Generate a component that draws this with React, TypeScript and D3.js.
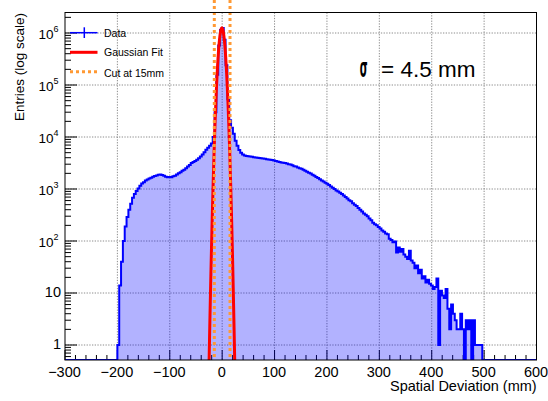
import React from "react";
import * as d3 from "d3";

// Histogram: 200 bins from -200 mm to 500 mm
const histMin = -200;
const histMax = 500;
const counts = [
  1, 14, 40, 100, 190, 290, 400, 520, 680, 800,
  920, 1020, 1150, 1280, 1350, 1450, 1520, 1600, 1650, 1720,
  1780, 1820, 1880, 1900, 1870, 1800, 1720, 1680, 1700, 1690,
  1750, 1800, 1900, 2000, 2100, 2250, 2350, 2500, 2700, 2900,
  3150, 3300, 3450, 3650, 3900, 4200, 4600, 5100, 5700, 6200,
  6800, 7500, 10000, 30000, 157000, 575000, 1140000, 1250000, 740000, 240000,
  53000, 21000, 15000, 11500, 8500, 6800, 5600, 5000, 4600, 4400,
  4300, 4250, 4200, 4150, 4100, 4050, 4000, 3950, 3900, 3850,
  3800, 3750, 3700, 3650, 3600, 3550, 3450, 3400, 3300, 3250,
  3200, 3150, 3100, 3000, 2950, 2850, 2750, 2700, 2600, 2500,
  2450, 2350, 2250, 2150, 2050, 1980, 1880, 1800, 1700, 1620,
  1540, 1460, 1390, 1320, 1260, 1190, 1120, 1060, 1000, 940,
  900, 850, 800, 750, 700, 660, 610, 580, 530, 500,
  470, 430, 400, 370, 340, 320, 300, 270, 250, 225,
  210, 200, 185, 175, 160, 150, 140, 135, 110, 105,
  95, 98, 60, 75, 62, 70, 55, 50, 45, 65,
  42, 38, 30, 34, 24, 28, 19, 21, 16, 18,
  15, 14, 12, 13, 19, 1, 11, 9, 8, 12,
  5, 2, 6, 4, 3, 2, 2, 4, 2, 0,
  3, 2, 3, 0, 3, 1, 1, 1, 1, 0,
];

// Gaussian fit parameters
const fitAmplitude = 1.25e6;
const fitMean = -0.5;
const fitSigma = 4.5;
const cutValue = 15;

const xDomain = [-300, 600];
const yDomain = [0.515, 2.48e6];
const xTicks = [-300, -200, -100, 0, 100, 200, 300, 400, 500, 600];
const yDecades = [1, 10, 100, 1000, 10000, 100000, 1000000];
const legendLabels = ["Data", "Gaussian Fit", "Cut at 15mm"];
const xTitle = "Spatial Deviation (mm)";
const yTitle = "Entries (log scale)";
const sigmaText = "= 4.5 mm";

const FONT = "'Liberation Sans', Arial, Helvetica, sans-serif";

export default function App() {
  const W = 548, H = 401;
  const L = 65, R = 536.5, T = 12.5, B = 360;
  const x = d3.scaleLinear().domain(xDomain).range([L, R]);
  const y = d3.scaleLog().domain(yDomain).range([B, T]);
  const bw = (histMax - histMin) / counts.length;
  const yv = (v: number) => (v > 0 ? y(v) : B);

  let steps = "";
  counts.forEach((c, i) => {
    const x1 = x(histMin + (i + 1) * bw);
    steps += `V${yv(c)}H${x1}`;
  });
  const outline = `M${L},${B}H${x(histMin)}` + steps + `V${B}H${R}`;
  const fillPath = `M${x(histMin)},${B}` + steps + `V${B}Z`;

  const gSamples = d3.range(-40, 40.001, 0.1);
  const gLine = d3
    .line<number>()
    .x((d) => x(d))
    .y((d) => {
      const v = fitAmplitude * Math.exp(-((d - fitMean) ** 2) / (2 * fitSigma * fitSigma));
      return Math.min(y(Math.max(v, 1e-3)), B + 40);
    });

  const xMinor = d3.range(-300, 600.001, 20).filter((v) => v % 100 !== 0);
  const yMinor: number[] = [];
  for (let e = -1; e <= 6; e++) {
    for (let m = 2; m <= 9; m++) {
      const v = m * Math.pow(10, e);
      if (v >= yDomain[0] && v <= yDomain[1]) yMinor.push(v);
    }
  }
  const exps = ["", "", "2", "3", "4", "5", "6"];

  return (
    <svg
      width={W}
      height={H}
      style={{ position: "fixed", left: 0, top: 0, background: "#fff" }}
      fontFamily={FONT}
    >
      <defs>
        <clipPath id="frame">
          <rect x={L} y={T} width={R - L} height={B - T} />
        </clipPath>
      </defs>
      <rect width={W} height={H} fill="#fff" />
      {/* grid */}
      <g stroke="#8c8c8c" strokeWidth={1} strokeDasharray="1.3,1.4">
        {xTicks.filter((t) => t > xDomain[0] && t < xDomain[1]).map((t) => (
          <line key={"gx" + t} x1={x(t)} x2={x(t)} y1={T} y2={B} />
        ))}
        {yDecades.map((t) => (
          <line key={"gy" + t} x1={L} x2={R} y1={y(t)} y2={y(t)} />
        ))}
      </g>
      {/* ticks */}
      <g stroke="#000" strokeWidth={1}>
        {xTicks.map((t) => (
          <line key={"tx" + t} x1={x(t)} x2={x(t)} y1={B} y2={B - 10} />
        ))}
        {xMinor.map((t) => (
          <line key={"mx" + t} x1={x(t)} x2={x(t)} y1={B} y2={B - 5} />
        ))}
        {yDecades.map((t) => (
          <line key={"ty" + t} x1={L} x2={L + 12} y1={y(t)} y2={y(t)} />
        ))}
        {yMinor.map((t) => (
          <line key={"my" + t} x1={L} x2={L + 6} y1={y(t)} y2={y(t)} />
        ))}
      </g>
      {/* histogram */}
      <g clipPath="url(#frame)">
        <path d={fillPath} fill="#0000ff" fillOpacity={0.3} stroke="none" />
        <path d={outline} fill="none" stroke="#0000ff" strokeWidth={2} strokeLinejoin="miter" />
        <path d={gLine(gSamples) || ""} fill="none" stroke="#ff0000" strokeWidth={3} />
      </g>
      {/* cut lines */}
      {[-cutValue, cutValue].map((c) => (
        <line
          key={"cut" + c}
          x1={x(c)}
          x2={x(c)}
          y1={0}
          y2={B}
          stroke="#ff9933"
          strokeWidth={3}
          strokeDasharray="3,3"
        />
      ))}
      {/* frame */}
      <rect x={L} y={T} width={R - L} height={B - T} fill="none" stroke="#000" strokeWidth={1} />
      {/* x labels */}
      <g fontSize={14.5} textAnchor="middle" fill="#000">
        {xTicks.map((t) => (
          <text key={"lx" + t} x={x(t) - 0.5} y={376.5}>
            {t < 0 ? "\u2212" + Math.abs(t) : String(t)}
          </text>
        ))}
      </g>
      {/* y labels */}
      <g fill="#000" textAnchor="end">
        {yDecades.map((t, i) =>
          i < 2 ? (
            <text key={"ly" + t} x={61} y={y(t) + 4} fontSize={14.5}>
              {String(t)}
            </text>
          ) : (
            <text key={"ly" + t} x={58.5} y={y(t) + 5.5} fontSize={13.5}>
              10
              <tspan fontSize={9} dy={-7}>
                {exps[i]}
              </tspan>
            </text>
          )
        )}
      </g>
      {/* axis titles */}
      <text x={536.7} y={391} fontSize={14.5} textAnchor="end" fill="#000">
        {xTitle}
      </text>
      <text
        transform="translate(24,13) rotate(-90)"
        fontSize={13.5}
        textAnchor="end"
        fill="#000"
      >
        {yTitle}
      </text>
      {/* legend */}
      <g>
        <line x1={70} x2={97.5} y1={32.7} y2={32.7} stroke="#0000ff" strokeWidth={1.5} />
        <line x1={84.3} x2={84.3} y1={27.3} y2={38} stroke="#0000ff" strokeWidth={1.5} />
        <text x={104} y={36.7} fontSize={10.5} fill="#000">
          {legendLabels[0]}
        </text>
        <line x1={70} x2={97.5} y1={52.3} y2={52.3} stroke="#ff0000" strokeWidth={3} />
        <text x={104} y={56} fontSize={10.5} fill="#000">
          {legendLabels[1]}
        </text>
        <line
          x1={70}
          x2={97.5}
          y1={71.7}
          y2={71.7}
          stroke="#ff9933"
          strokeWidth={3}
          strokeDasharray="3,3"
        />
        <text x={104} y={76.5} fontSize={10.5} fill="#000">
          {legendLabels[2]}
        </text>
      </g>
      {/* sigma annotation */}
      <text
        transform="translate(363.7,77.3) scale(0.72,1.85)"
        fontSize={14}
        fontWeight="bold"
        textAnchor="middle"
        fill="#000"
        fontFamily="'DejaVu Sans', sans-serif"
      >
        σ
      </text>
      <text x={381} y={77.3} fontSize={22.5} fill="#000">
        {sigmaText}
      </text>
    </svg>
  );
}
